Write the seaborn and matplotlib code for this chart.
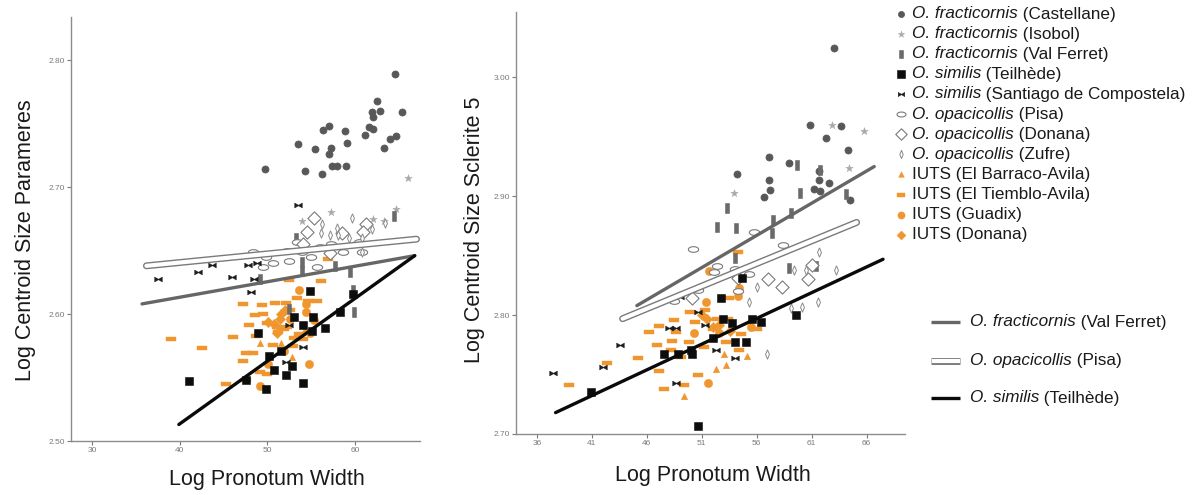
import numpy as np
import matplotlib
matplotlib.use("Agg")
import matplotlib.pyplot as plt
import seaborn as sns

sns.set_style("ticks")
plt.rcParams['font.family'] = ['Liberation Sans', 'DejaVu Sans']

ORANGE = "#F0962E"

# ---------------- LEFT PANEL DATA (Log Centroid Size Parameres) ----------------
castellane_L_x = [49.7, 53.5, 54.3, 55.4, 56.3, 56.2, 57.0, 57.0, 57.2, 57.4, 57.9, 58.8, 59.0, 59.1,
                  61.1, 61.6, 62.0, 62.0, 61.9, 62.5, 62.8, 63.3, 64.0, 64.6, 64.7, 65.3]
castellane_L_y = [2.714, 2.734, 2.713, 2.730, 2.745, 2.710, 2.748, 2.726, 2.731, 2.717, 2.717, 2.744, 2.717, 2.735,
                  2.741, 2.747, 2.746, 2.755, 2.759, 2.768, 2.760, 2.731, 2.738, 2.789, 2.740, 2.759]
isobol_L_x = [66.0, 64.7, 57.2, 54.0, 62.0, 63.3]
isobol_L_y = [2.707, 2.683, 2.680, 2.673, 2.675, 2.673]
valferret_L_x = [64.4, 53.3, 53.9, 54.0, 57.7, 59.4, 59.8, 49.2, 59.9, 52.5]
valferret_L_y = [2.677, 2.660, 2.641, 2.634, 2.638, 2.633, 2.619, 2.628, 2.602, 2.604]
teilhede_L_x = [41.0, 47.6, 49.8, 48.9, 50.2, 50.8, 51.6, 52.1, 52.8, 53.0, 54.1, 54.1, 54.8, 55.1,
                55.2, 56.6, 58.3, 59.8]
teilhede_L_y = [2.547, 2.548, 2.541, 2.585, 2.567, 2.556, 2.571, 2.552, 2.559, 2.598, 2.546, 2.591, 2.618, 2.587,
                2.598, 2.589, 2.602, 2.616]
santiago_L_x = [37.5, 42.1, 43.7, 46.0, 47.8, 48.8, 48.5, 48.1, 53.5, 52.5, 54.1, 52.1]
santiago_L_y = [2.628, 2.633, 2.639, 2.629, 2.639, 2.640, 2.628, 2.617, 2.686, 2.591, 2.574, 2.562]
pisa_L_x = [48.4, 49.5, 49.8, 50.6, 52.5, 54.0, 55.6, 56.0, 57.2, 58.6, 60.5, 52.2, 55.0, 53.4, 60.8]
pisa_L_y = [2.649, 2.637, 2.645, 2.640, 2.642, 2.649, 2.637, 2.653, 2.655, 2.649, 2.657, 2.650, 2.645, 2.657, 2.649]
donana_L_x = [55.3, 54.5, 58.5, 61.2, 60.9, 57.1, 54.1]
donana_L_y = [2.676, 2.665, 2.664, 2.671, 2.665, 2.648, 2.655]
zufre_L_x = [56.2, 56.1, 57.9, 58.0, 59.7, 59.3, 60.8, 61.9, 63.4, 57.1, 60.8]
zufre_L_y = [2.671, 2.664, 2.668, 2.662, 2.676, 2.660, 2.649, 2.667, 2.672, 2.662, 2.660]
barraco_L_x = [49.2, 51.5, 52.8, 54.3]
barraco_L_y = [2.577, 2.577, 2.566, 2.588]
tiemblo_L_x = [39.0, 42.5, 46.1, 47.2, 49.4, 47.9, 48.7, 47.6, 48.4, 47.2, 49.5, 49.2, 45.3, 50.9, 52.1,
               48.6, 50.0, 51.1, 56.9, 56.1, 52.5, 53.4, 54.6, 55.6, 49.9, 52.9, 50.6, 54.1, 51.9, 53.6,
               51.2, 53.0, 52.2, 52.6, 47.6]
tiemblo_L_y = [2.580, 2.573, 2.582, 2.608, 2.607, 2.591, 2.583, 2.569, 2.569, 2.563, 2.600, 2.554, 2.545, 2.609, 2.609,
               2.599, 2.593, 2.590, 2.643, 2.626, 2.627, 2.613, 2.610, 2.610, 2.553, 2.575, 2.576, 2.580, 2.588, 2.584,
               2.586, 2.581, 2.590, 2.603, 2.548]
guadix_L_x = [53.6, 54.4, 54.4, 54.7, 49.1, 50.1, 52.6, 55.3, 51.9, 54.9]
guadix_L_y = [2.619, 2.608, 2.602, 2.561, 2.543, 2.561, 2.596, 2.595, 2.571, 2.585]
iutsdonana_L_x = [50.1, 50.8, 51.6, 52.0, 51.4, 51.1]
iutsdonana_L_y = [2.594, 2.592, 2.600, 2.603, 2.596, 2.585]

fitL_valferret_x, fitL_valferret_y = [35.7, 66.8], [2.608, 2.646]
fitL_pisa_x, fitL_pisa_y = [36.2, 67.0], [2.638, 2.659]
fitL_teilhede_x, fitL_teilhede_y = [39.9, 66.8], [2.513, 2.646]

# ---------------- RIGHT PANEL DATA (Log Centroid Size Sclerite 5) ----------------
castellane_R_x = [63.0, 60.9, 63.7, 62.3, 64.3, 57.1, 58.9, 54.2, 57.1, 57.2, 56.7, 61.7, 61.7, 62.6, 61.2, 61.8, 64.5]
castellane_R_y = [3.025, 2.960, 2.959, 2.949, 2.939, 2.933, 2.928, 2.919, 2.914, 2.905, 2.899, 2.921, 2.914, 2.911,
                  2.906, 2.904, 2.897]
isobol_R_x = [62.9, 65.8, 64.4, 53.9]
isobol_R_y = [2.960, 2.955, 2.924, 2.903]
valferret_R_x = [59.7, 59.9, 53.3, 52.4, 54.1, 57.5, 57.4, 59.1, 58.9, 54.0, 61.4, 64.1, 61.8]
valferret_R_y = [2.926, 2.903, 2.890, 2.874, 2.873, 2.880, 2.869, 2.886, 2.840, 2.848, 2.841, 2.902, 2.922]
teilhede_R_x = [40.9, 47.6, 48.8, 50.0, 50.1, 50.7, 52.8, 52.9, 53.8, 54.0, 54.7, 55.0, 55.6, 56.4, 59.6, 52.0]
teilhede_R_y = [2.735, 2.767, 2.767, 2.771, 2.767, 2.707, 2.814, 2.797, 2.793, 2.777, 2.831, 2.777, 2.797, 2.794,
                2.800, 2.781]
santiago_R_x = [37.5, 42.0, 43.6, 48.0, 48.7, 48.7, 50.7, 51.3, 52.3, 54.0, 49.0]
santiago_R_y = [2.751, 2.756, 2.775, 2.789, 2.789, 2.743, 2.803, 2.792, 2.771, 2.764, 2.815]
pisa_R_x = [50.2, 58.4, 55.8, 54.0, 55.3, 52.1, 50.7, 54.3, 48.5, 52.4]
pisa_R_y = [2.856, 2.859, 2.870, 2.839, 2.835, 2.836, 2.821, 2.820, 2.812, 2.841]
donana_R_x = [50.1, 57.0, 58.3, 60.7, 61.0, 54.3]
donana_R_y = [2.814, 2.830, 2.824, 2.830, 2.842, 2.831]
zufre_R_x = [61.7, 59.4, 60.5, 63.2, 56.0, 55.3, 59.1, 60.1, 61.6, 56.9]
zufre_R_y = [2.853, 2.838, 2.838, 2.838, 2.824, 2.811, 2.806, 2.807, 2.811, 2.767]
barraco_R_x = [49.4, 52.3, 53.2, 53.0, 55.1]
barraco_R_y = [2.732, 2.755, 2.758, 2.767, 2.766]
tiemblo_R_x = [38.9, 42.4, 45.2, 46.2, 47.1, 47.1, 47.6, 48.2, 48.3, 48.5, 49.1, 49.4, 49.8, 49.9, 50.4,
               50.7, 51.2, 51.3, 52.0, 52.4, 53.2, 53.4, 54.4, 54.6, 56.0, 46.9, 48.7, 53.5, 54.3]
tiemblo_R_y = [2.741, 2.760, 2.764, 2.786, 2.791, 2.753, 2.738, 2.771, 2.778, 2.796, 2.765, 2.741, 2.777, 2.803, 2.794,
               2.750, 2.773, 2.804, 2.788, 2.797, 2.777, 2.797, 2.771, 2.784, 2.788, 2.775, 2.786, 2.814, 2.853]
guadix_R_x = [51.6, 51.7, 51.4, 50.3, 54.4, 52.6, 54.3, 55.5]
guadix_R_y = [2.743, 2.837, 2.811, 2.785, 2.823, 2.785, 2.816, 2.790]
iutsdonana_R_x = [51.0, 51.5, 52.0, 52.6, 53.6]
iutsdonana_R_y = [2.800, 2.797, 2.790, 2.792, 2.787]

fitR_valferret_x, fitR_valferret_y = [45.1, 66.7], [2.808, 2.925]
fitR_pisa_x, fitR_pisa_y = [43.8, 65.1], [2.797, 2.878]
fitR_teilhede_x, fitR_teilhede_y = [37.7, 67.5], [2.718, 2.847]

# legend labels
group_species = ["O. fracticornis", "O. fracticornis", "O. fracticornis", "O. similis", "O. similis",
                 "O. opacicollis", "O. opacicollis", "O. opacicollis", "IUTS", "IUTS", "IUTS", "IUTS"]
group_sites = ["(Castellane)", "(Isobol)", "(Val Ferret)", "(Teilhède)", "(Santiago de Compostela)",
               "(Pisa)", "(Donana)", "(Zufre)", "(El Barraco-Avila)", "(El Tiemblo-Avila)", "(Guadix)", "(Donana)"]
line_species = ["O. fracticornis", "O. opacicollis", "O. similis"]
line_sites = ["(Val Ferret)", "(Pisa)", "(Teilhède)"]

# ---------------- marker shapes ----------------
vbar = [(-0.38, -1), (0.38, -1), (0.38, 1), (-0.38, 1), (-0.38, -1)]
hbar = [(-1, -0.42), (1, -0.42), (1, 0.42), (-1, 0.42), (-1, -0.42)]
bowtie = [(-1, 0.65), (-0.1, 0.12), (0.1, 0.12), (1, 0.65), (1, -0.65), (0.1, -0.12),
          (-0.1, -0.12), (-1, -0.65), (-1, 0.65)]
_t = np.linspace(0, 2 * np.pi, 41)
ellipse = list(zip(np.cos(_t), 0.55 * np.sin(_t)))
thin_diamond = [(0, 1), (0.42, 0), (0, -1), (-0.42, 0), (0, 1)]

styles = [
    dict(marker="o", color="#585858", edgecolor="#585858", s=26, linewidth=0.5),
    dict(marker="*", color="#a9a9a9", edgecolor="#a9a9a9", s=32, linewidth=0.3),
    dict(marker=vbar, color="#6a6a6a", edgecolor="#6a6a6a", s=45, linewidth=0.4),
    dict(marker="s", color="#0d0d0d", edgecolor="#0d0d0d", s=38, linewidth=0.4),
    dict(marker=bowtie, color="#1c1c1c", edgecolor="#1c1c1c", s=30, linewidth=0.3),
    dict(marker=ellipse, color="white", edgecolor="#7a7a7a", s=55, linewidth=0.8),
    dict(marker="D", color="white", edgecolor="#7a7a7a", s=45, linewidth=0.8),
    dict(marker=thin_diamond, color="white", edgecolor="#8a8a8a", s=45, linewidth=0.7),
    dict(marker="^", color=ORANGE, edgecolor=ORANGE, s=22, linewidth=0.3),
    dict(marker=hbar, color=ORANGE, edgecolor=ORANGE, s=55, linewidth=0.3),
    dict(marker="o", color=ORANGE, edgecolor=ORANGE, s=36, linewidth=0.3),
    dict(marker="D", color=ORANGE, edgecolor=ORANGE, s=28, linewidth=0.3),
]

left_groups = [(castellane_L_x, castellane_L_y), (isobol_L_x, isobol_L_y), (valferret_L_x, valferret_L_y),
               (teilhede_L_x, teilhede_L_y), (santiago_L_x, santiago_L_y), (pisa_L_x, pisa_L_y),
               (donana_L_x, donana_L_y), (zufre_L_x, zufre_L_y), (barraco_L_x, barraco_L_y),
               (tiemblo_L_x, tiemblo_L_y), (guadix_L_x, guadix_L_y), (iutsdonana_L_x, iutsdonana_L_y)]
right_groups = [(castellane_R_x, castellane_R_y), (isobol_R_x, isobol_R_y), (valferret_R_x, valferret_R_y),
                (teilhede_R_x, teilhede_R_y), (santiago_R_x, santiago_R_y), (pisa_R_x, pisa_R_y),
                (donana_R_x, donana_R_y), (zufre_R_x, zufre_R_y), (barraco_R_x, barraco_R_y),
                (tiemblo_R_x, tiemblo_R_y), (guadix_R_x, guadix_R_y), (iutsdonana_R_x, iutsdonana_R_y)]
draw_order = [9, 10, 8, 11, 0, 1, 2, 5, 6, 7, 3, 4]

W, H = 1192, 495
fig = plt.figure(figsize=(W / 100, H / 100), dpi=100)
axL = fig.add_axes([71 / W, 1 - 441 / H, (420 - 71) / W, (441 - 17) / H])
axR = fig.add_axes([516 / W, 1 - 434 / H, (905 - 516) / W, (434 - 12) / H])


def draw_panel(ax, groups, fits):
    for gi in draw_order:
        gx, gy = groups[gi]
        st = dict(styles[gi])
        sns.scatterplot(x=gx, y=gy, ax=ax, legend=False, zorder=3, **st)
    (vx, vy), (px, py), (tx, ty) = fits
    sns.lineplot(x=vx, y=vy, ax=ax, color="#666666", linewidth=2.4, zorder=5)
    sns.lineplot(x=px, y=py, ax=ax, color="#7a7a7a", linewidth=5.0, zorder=5)
    sns.lineplot(x=px, y=py, ax=ax, color="white", linewidth=3.0, zorder=6)
    sns.lineplot(x=tx, y=ty, ax=ax, color="#0a0a0a", linewidth=2.4, zorder=7)
    for sp in ["top", "right"]:
        ax.spines[sp].set_visible(False)
    for sp in ["left", "bottom"]:
        ax.spines[sp].set_color("#8c8c8c")
        ax.spines[sp].set_linewidth(1.0)
    ax.tick_params(labelsize=6, colors="#7a7a7a", length=3, width=0.8, pad=1.5)


draw_panel(axL, left_groups, [(fitL_valferret_x, fitL_valferret_y), (fitL_pisa_x, fitL_pisa_y),
                              (fitL_teilhede_x, fitL_teilhede_y)])
axL.set_xlim(27.6, 67.4)
axL.set_ylim(2.50, 2.834)
axL.set_xticks([30, 40, 50, 60])
axL.set_yticks([2.50, 2.60, 2.70, 2.80])
axL.set_yticklabels(["2.50", "2.60", "2.70", "2.80"])
axL.set_xlabel("Log Pronotum Width", fontsize=15.5, color="#1a1a1a")
axL.set_ylabel("Log Centroid Size Parameres", fontsize=15.5, color="#1a1a1a")
axL.xaxis.set_label_coords(0.562, -0.066)
axL.yaxis.set_label_coords(-0.100, 0.474)

draw_panel(axR, right_groups, [(fitR_valferret_x, fitR_valferret_y), (fitR_pisa_x, fitR_pisa_y),
                               (fitR_teilhede_x, fitR_teilhede_y)])
axR.set_xlim(34.1, 69.5)
axR.set_ylim(2.70, 3.055)
axR.set_xticks([36, 41, 46, 51, 56, 61, 66])
axR.set_yticks([2.70, 2.80, 2.90, 3.00])
axR.set_yticklabels(["2.70", "2.80", "2.90", "3.00"])
axR.set_xlabel("Log Pronotum Width", fontsize=15.5, color="#1a1a1a")
axR.set_ylabel("Log Centroid Size Sclerite 5", fontsize=15.5, color="#1a1a1a")
axR.xaxis.set_label_coords(0.506, -0.073)
axR.yaxis.set_label_coords(-0.080, 0.483)

# ---------------- legend (pixel-coordinate overlay axes) ----------------
lax = fig.add_axes([0, 0, 1, 1], zorder=10)
lax.set_xlim(0, W)
lax.set_ylim(H, 0)
lax.axis("off")
lax.patch.set_alpha(0)

LEG_FS = 12.3
row_y = [14, 34, 54, 74, 94, 114, 134, 154, 174, 195, 215, 235]
fig.canvas.draw()
renderer = fig.canvas.get_renderer()


def two_part(x, y, italic_part, rest):
    t1 = lax.text(x, y, italic_part, style="italic", fontsize=LEG_FS, va="center", ha="left",
                  color="#1a1a1a")
    bb = t1.get_window_extent(renderer=renderer)
    lax.text(bb.x1, y, " " + rest, fontsize=LEG_FS, va="center", ha="left", color="#1a1a1a")


for i, (sp, site) in enumerate(zip(group_species, group_sites)):
    st = dict(styles[i])
    st["s"] = st["s"] * 0.75
    lax.scatter([901], [row_y[i]], marker=st["marker"], c=st["color"], edgecolors=st["edgecolor"],
                s=st["s"], linewidths=st["linewidth"])
    if sp == "IUTS":
        lax.text(912, row_y[i], sp + " " + site, fontsize=LEG_FS, va="center", ha="left", color="#1a1a1a")
    else:
        two_part(912, row_y[i], sp, site)

line_rows = [322, 361, 398]
lax.plot([931, 960], [line_rows[0]] * 2, color="#666666", lw=2.4, solid_capstyle="butt")
lax.plot([931, 960], [line_rows[1]] * 2, color="#7a7a7a", lw=5.0, solid_capstyle="butt")
lax.plot([931.5, 959.5], [line_rows[1]] * 2, color="white", lw=3.0, solid_capstyle="butt")
lax.plot([931, 960], [line_rows[2]] * 2, color="#0a0a0a", lw=2.4, solid_capstyle="butt")
for ly, sp, site in zip(line_rows, line_species, line_sites):
    two_part(970, ly, sp, site)

fig.savefig("out.png", dpi=100)
